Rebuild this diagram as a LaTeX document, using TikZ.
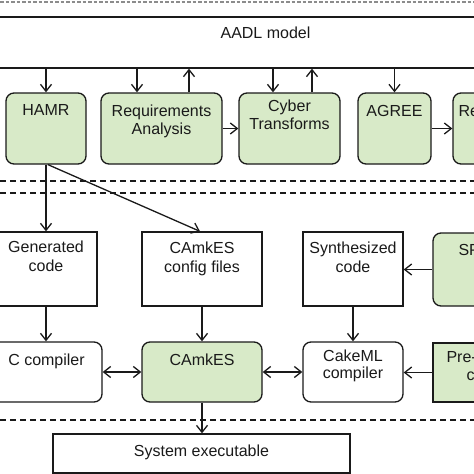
\documentclass[tikz,border=0pt]{standalone}
\usepackage{fontspec}
\setmainfont{Liberation Sans}
\usetikzlibrary{arrows.meta}
\definecolor{gfill}{HTML}{D8EAC8}
\definecolor{ink}{HTML}{1A1A1A}
\begin{document}
\begin{tikzpicture}[x=1pt,y=-1pt,
  every node/.style={font=\fontsize{16}{18.5}\selectfont, text=ink},
  plain/.style={draw=ink, line width=1.3pt, fill=white, inner sep=0pt},
  gbox/.style={plain, fill=gfill, rounded corners=8pt},
  gsq/.style={plain, fill=gfill},
  rbox/.style={plain, rounded corners=8pt},
  lab/.style={inner sep=0pt, align=center, draw=none, fill=none},
  wide/.style={font=\fontsize{16}{19.5}\selectfont},
  tight/.style={font=\fontsize{16}{17.5}\selectfont},
  arr/.style={draw=ink, line width=1.3pt, -{Straight Barb[length=7pt,width=11pt]}},
  biarr/.style={draw=ink, line width=1.3pt, {Straight Barb[length=7pt,width=11pt]}-{Straight Barb[length=7pt,width=11pt]}},
  sep/.style={draw=ink, line width=1.3pt, dash pattern=on 6pt off 4pt},
  topsep/.style={draw=black!45, line width=1.6pt, dash pattern=on 3.5pt off 2pt},
]
\useasboundingbox (0,0) rectangle (474,474);
\clip (0,0) rectangle (474,474);

% separators
\draw[topsep] (0,2) -- (474,2);
\draw[sep] (0,181) -- (474,181);
\draw[sep] (0,193) -- (474,193);
\draw[sep] (0,420) -- (474,420);

% AADL model
\node[plain, minimum width=560pt, minimum height=51pt,
  label={[lab,below=10pt]north:AADL model}] (aadl) at (265.5,42.5) {};

% row 1
\node[gbox, minimum width=80pt, minimum height=71pt,
  label={[lab,below=12pt]north:HAMR}] (hamr) at (46,128.5) {};
\node[gbox, minimum width=121pt, minimum height=71pt,
  label={[lab,below=12pt]north:{Requirements\\Analysis}}] (req) at (161.5,128.5) {};
\node[gbox, minimum width=101pt, minimum height=71pt,
  label={[lab,below=7pt]north:{Cyber\\Transforms}}] (cyber) at (289.5,128.5) {};
\node[gbox, minimum width=73pt, minimum height=71pt,
  label={[lab,below=12.5pt]north:AGREE}] (agree) at (394.5,128.5) {};
\node[gbox, minimum width=100pt, minimum height=71pt,
  label={[lab,anchor=north west,xshift=6pt,yshift=-13pt]north west:Re}] (resol) at (503,128.5) {};

% row 2
\node[plain, minimum width=102pt, minimum height=74pt,
  label={[lab,wide,below=9pt]north:{Generated\\code}}] (gen) at (46,269) {};
\node[plain, minimum width=120pt, minimum height=74pt,
  label={[lab,wide,below=10pt]north:{CAmkES\\config files}}] (cfg) at (202,269) {};
\node[plain, minimum width=100pt, minimum height=74pt,
  label={[lab,wide,below=10pt]north:{Synthesized\\code}}] (synth) at (353,269) {};
\node[gbox, minimum width=100pt, minimum height=73pt,
  label={[lab,anchor=north west,xshift=26pt,yshift=-12pt]north west:SP}] (splat) at (483,269.5) {};

% row 3
\node[rbox, minimum width=111pt, minimum height=60pt,
  label={[lab,below=12pt]north:C compiler}] (ccomp) at (46.5,372) {};
\node[gbox, minimum width=120pt, minimum height=60pt,
  label={[lab,below=12pt]north:CAmkES}] (camkes) at (202,372) {};
\node[rbox, minimum width=100pt, minimum height=60pt,
  label={[lab,tight,below=8pt]north:{CakeML\\compiler}}] (cakeml) at (353,372) {};
\node[gsq, minimum width=100pt, minimum height=59pt,
  label={[lab,anchor=base west,xshift=14pt,yshift=-20pt]north west:Pre-},
  label={[lab,anchor=base west,xshift=34pt,yshift=-38pt]north west:c}] (pre) at (483,372.5) {};

% system executable
\node[plain, minimum width=297pt, minimum height=39pt,
  label={[lab,below=11pt]north:System executable}] (sysexe) at (201.5,453.5) {};

% connectors: AADL model <-> tools
\draw[arr] (hamr.north |- aadl.south) -- (hamr.north);
\draw[arr] ([xshift=-24.5pt]req.north |- aadl.south) -- ([xshift=-24.5pt]req.north);
\draw[arr] ([xshift=27.5pt]req.north) -- ([xshift=27.5pt]req.north |- aadl.south);
\draw[arr] ([xshift=-16.5pt]cyber.north |- aadl.south) -- ([xshift=-16.5pt]cyber.north);
\draw[arr] ([xshift=22.5pt]cyber.north) -- ([xshift=22.5pt]cyber.north |- aadl.south);
\draw[arr] (agree.north |- aadl.south) -- (agree.north);
\draw[arr] (req.east) -- (cyber.west);
\draw[arr] (agree.east) -- (resol.west);

% HAMR outputs
\draw[arr] (hamr.south) -- (hamr.south |- gen.north);
\draw[arr] ([xshift=2pt]hamr.south) -- ([xshift=-2pt]cfg.north);

% row 2 to row 3
\draw[arr] (splat.west) -- (splat.west -| synth.east);
\draw[arr] (gen.south) -- (gen.south |- ccomp.north);
\draw[arr] (cfg.south) -- (camkes.north);
\draw[arr] (synth.south) -- (cakeml.north);

% row 3
\draw[biarr] (ccomp.east) -- (camkes.west);
\draw[biarr] (camkes.east) -- (cakeml.west);
\draw[arr] (pre.west) -- (pre.west -| cakeml.east);
\draw[arr] (camkes.south) -- (camkes.south |- sysexe.north);
\end{tikzpicture}
\end{document}
